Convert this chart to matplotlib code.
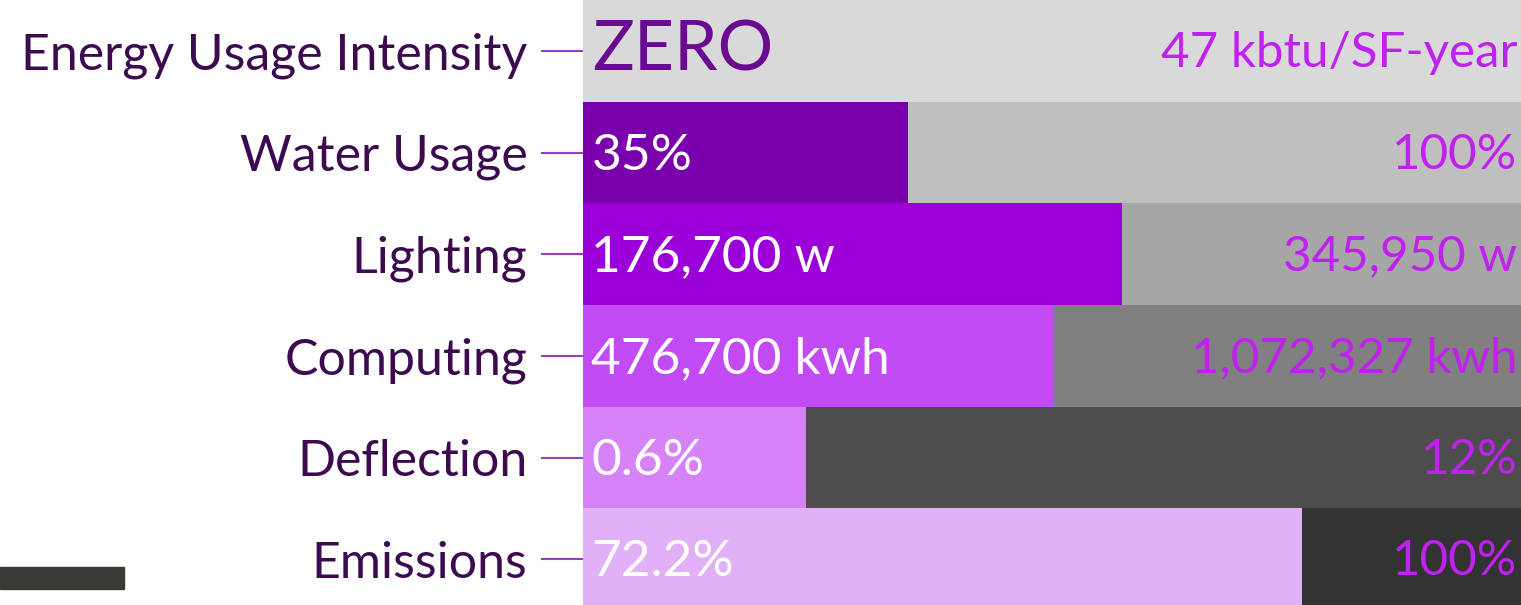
import matplotlib
matplotlib.use("Agg")
import matplotlib.pyplot as plt
from matplotlib.patches import Rectangle

plt.rcParams['font.family'] = ['Lato', 'DejaVu Sans']

categories = ["Energy Usage Intensity", "Water Usage", "Lighting", "Computing", "Deflection", "Emissions"]
achieved_labels = ["ZERO", "35%", "176,700 w", "476,700 kwh", "0.6%", "72.2%"]
baseline_labels = ["47 kbtu/SF-year", "100%", "345,950 w", "1,072,327 kwh", "12%", "100%"]
# bar lengths as share of the full row width (percent)
achieved_share = [0, 34.6, 57.5, 50.1, 23.8, 76.7]
baseline_share = [100, 100, 100, 100, 100, 100]

grey_colors = ["#d9d9d9", "#bfbfbf", "#a6a6a6", "#808080", "#4d4d4d", "#333333"]
purple_colors = ["#7a00ad", "#7a00ad", "#9b00d8", "#c34bf5", "#d683f7", "#e2b0f7"]

fig = plt.figure(figsize=(15.21, 6.05), dpi=100)
fig.patch.set_facecolor("white")
ax = fig.add_axes([583 / 1521, 0, 938 / 1521, 1])

y = list(range(len(categories)))
ax.barh(y, baseline_share, height=1.0, color=grey_colors, linewidth=0)
ax.barh(y, achieved_share, height=1.0, color=purple_colors, linewidth=0)

ax.set_xlim(0, 100)
ax.set_ylim(5.45, -0.5)

for i in y:
    if i == 0:
        ax.text(1.0, i + 0.0, achieved_labels[i], color="#6a0a90", fontsize=50,
                va="center", ha="left")
    else:
        ax.text(0.9, i + 0.03, achieved_labels[i], color="white", fontsize=37,
                va="center", ha="left")
    ax.text(99.6, i + 0.02, baseline_labels[i], color="#c020f0", fontsize=35.5,
            va="center", ha="right")

ax.set_yticks(y, categories)
ax.tick_params(axis="y", length=30, width=1.5, color="#9a3cc0", pad=10,
               labelsize=36, labelcolor="#3b0a4f")
ax.set_xticks([])
for s in ax.spines.values():
    s.set_visible(False)

# dark stroke at lower left of the original slide
fig.patches.append(Rectangle((0, 1 - 589 / 605), 124 / 1521, 22 / 605,
                             transform=fig.transFigure, color="#3a3a35", zorder=0))

fig.savefig("out.png", dpi=100)
